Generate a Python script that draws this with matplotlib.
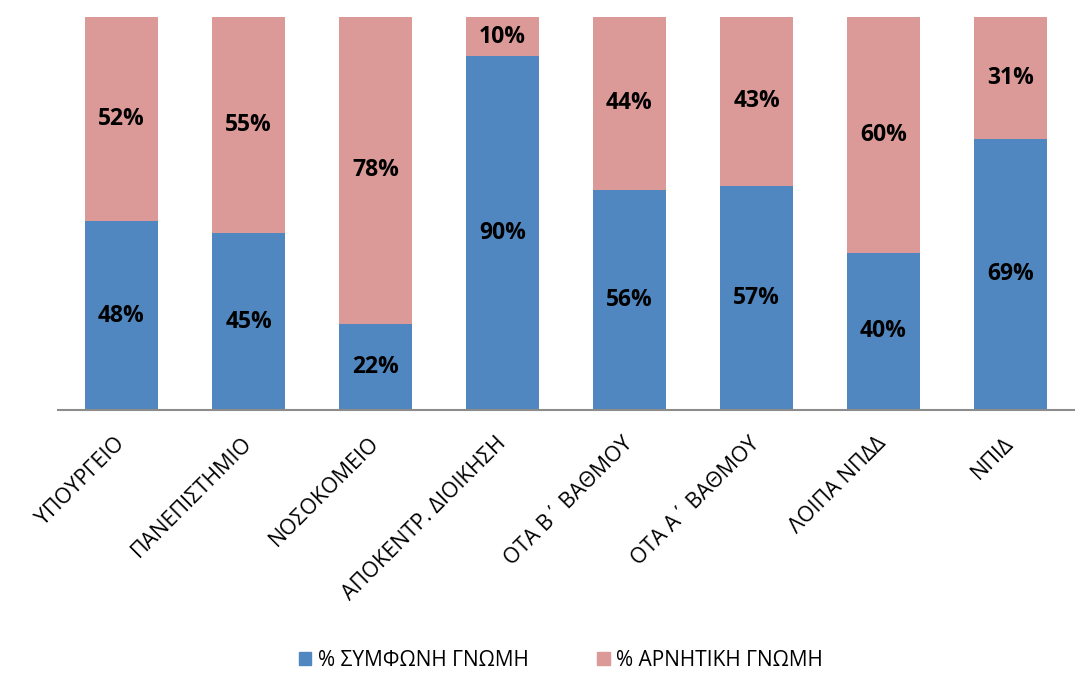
import numpy as np
import matplotlib.pyplot as plt
from matplotlib.patches import Patch

plt.rcParams['font.family'] = ['Open Sans', 'DejaVu Sans']

# Data
categories = ['ΥΠΟΥΡΓΕΙΟ', 'ΠΑΝΕΠΙΣΤΗΜΙΟ', 'ΝΟΣΟΚΟΜΕΙΟ', 'ΑΠΟΚΕΝΤΡ. ΔΙΟΙΚΗΣΗ',
              'ΟΤΑ Β΄ ΒΑΘΜΟΥ', 'ΟΤΑ Α΄ ΒΑΘΜΟΥ', 'ΛΟΙΠΑ ΝΠΔΔ', 'ΝΠΙΔ']
agree = [48, 45, 22, 90, 56, 57, 40, 69]
disagree = [52, 55, 78, 10, 44, 43, 60, 31]
series_names = ['% ΣΥΜΦΩΝΗ ΓΝΩΜΗ', '% ΑΡΝΗΤΙΚΗ ΓΝΩΜΗ']

blue = '#5087C0'
pink = '#DB9997'

fig = plt.figure(figsize=(10.89, 6.93), dpi=100)
ax = fig.add_axes([58/1089, 1 - 410/693, (1074 - 58)/1089, (410 - 17)/693])

x = np.arange(len(categories))
a = np.array(agree) / 100
d = np.array(disagree) / 100
width = 0.57

ax.bar(x, a, width, color=blue)
ax.bar(x, d, width, bottom=a, color=pink)

# percentage labels centred in each segment
for xi, av, dv, ap, dp in zip(x, a, d, agree, disagree):
    ax.text(xi, av / 2, f'{ap}%', ha='center', va='center',
            fontsize=16.5, fontweight='bold', color='black')
    ax.text(xi, av + dv / 2, f'{dp}%', ha='center', va='center',
            fontsize=16.5, fontweight='bold', color='black')

ax.set_xlim(-0.5, len(categories) - 0.5)
ax.set_ylim(0, 1)
ax.set_yticks([])
for s in ['left', 'right', 'top']:
    ax.spines[s].set_visible(False)
ax.spines['bottom'].set_color('#8c8c8c')
ax.spines['bottom'].set_linewidth(1.5)

ax.set_xticks(x)
ax.set_xticklabels(categories, rotation=45, ha='right', va='center',
                   rotation_mode='anchor', fontsize=15.5)
ax.tick_params(axis='x', length=0, pad=22)

handles = [Patch(color=blue), Patch(color=pink)]
fig.legend(handles, series_names, loc='center', bbox_to_anchor=(0.515, 0.047),
           ncol=2, frameon=False, fontsize=15, handlelength=0.6, handleheight=0.6,
           handletextpad=0.3, columnspacing=3.3)

fig.savefig('out.png', dpi=100)
